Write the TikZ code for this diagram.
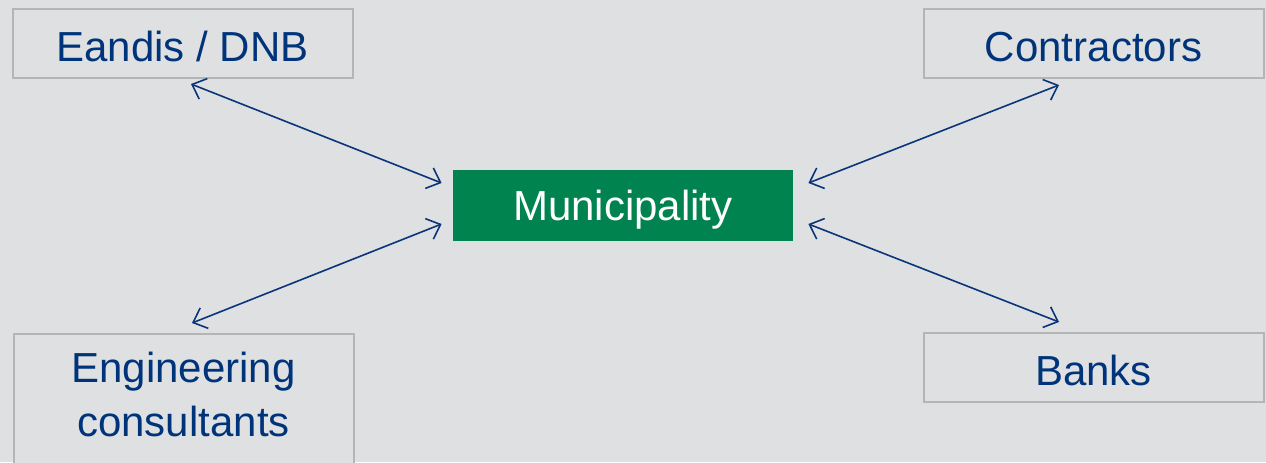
\documentclass[tikz,border=0pt]{standalone}
\usepackage{fontspec}
\setmainfont{Liberation Sans}
\usetikzlibrary{arrows.meta}
\definecolor{bg}{HTML}{DFE0E2}
\definecolor{bordergray}{HTML}{B4B5B7}
\definecolor{txtblue}{HTML}{00347A}
\definecolor{arrblue}{HTML}{0A357A}
\definecolor{munigreen}{HTML}{00834E}
\tikzset{
  partner/.style={draw=bordergray, line width=1pt, fill=bg, text=txtblue,
    minimum width=170pt, minimum height=34.5pt, inner sep=0pt,
    font=\fontsize{21}{27}\selectfont},
  oneline/.style={text height=18pt, text depth=0pt},
  central/.style={fill=munigreen, text=white, minimum width=170pt,
    minimum height=35.5pt, inner sep=0pt, text height=15pt, text depth=0pt,
    font=\fontsize{21}{27}\selectfont},
  link/.style={draw=arrblue, line width=0.8pt,
    {Straight Barb[length=6pt,width=11pt]}-{Straight Barb[length=6pt,width=11pt]}}
}
\begin{document}
\begin{tikzpicture}[x=0.5pt,y=-0.5pt]
\fill[bg] (0,0) rectangle (1266,462);
\useasboundingbox (0,0) rectangle (1266,462);
\clip (0,0) rectangle (1266,462);
\node[partner, oneline] (eandis) at (182.5,43) {Eandis / DNB};
\node[partner, oneline] (contr) at (1093.5,43) {Contractors};
\node[partner, oneline] (banks) at (1093.5,367) {Banks};
\node[partner, anchor=north west] (eng) at (12.5,332.5)
  {\parbox[c][70pt][t]{170pt}{\centering\rule{0pt}{24.5pt}Engineering\\consultants}};
\node[central] (muni) at (623,205.5) {Municipality};
\draw[link] ([shift={(8.5,5.5)}]eandis.south) -- ([shift={(-11,-22.5)}]muni.west);
\draw[link] ([shift={(-34.5,6.5)}]contr.south) -- ([shift={(15,-22.5)}]muni.east);
\draw[link] ([shift={(8.5,-9.5)}]eng.north) -- ([shift={(-11,18.5)}]muni.west);
\draw[link] ([shift={(-34.5,-9.5)}]banks.north) -- ([shift={(15,18.5)}]muni.east);
\end{tikzpicture}
\end{document}
